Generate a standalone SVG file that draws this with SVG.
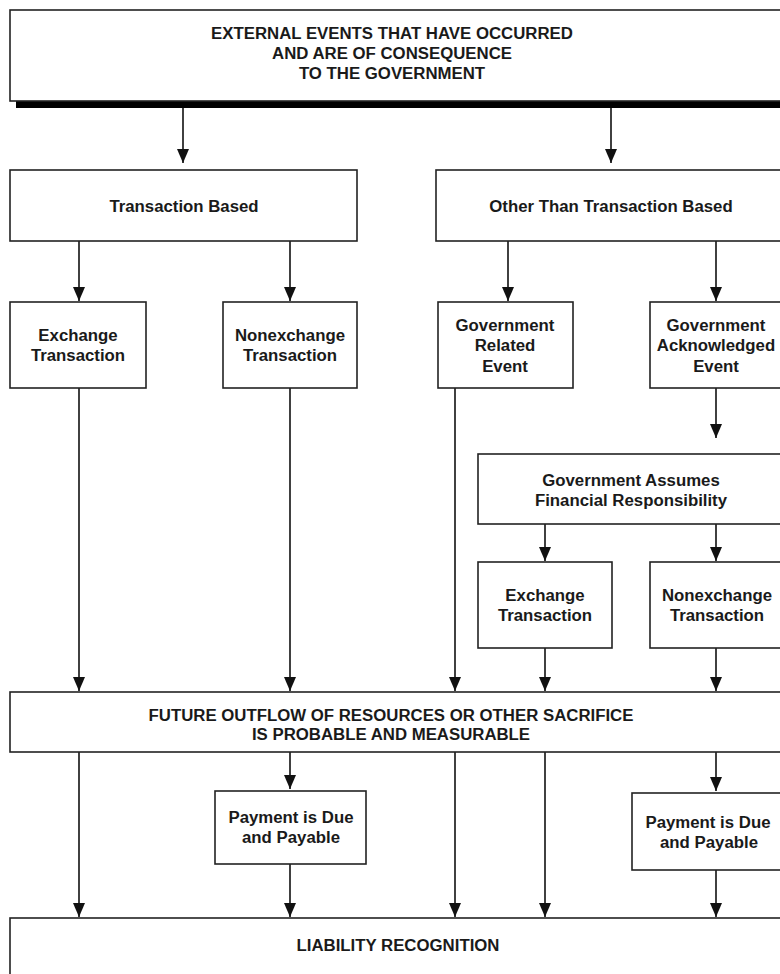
<svg xmlns="http://www.w3.org/2000/svg" width="780" height="974" viewBox="0 0 780 974">
  <defs>
    <marker id="arrow" viewBox="0 0 14 12" refX="14" refY="6" markerWidth="14" markerHeight="12" markerUnits="userSpaceOnUse" orient="auto">
      <path d="M0,0 L14,6 L0,12 z" fill="#111"/>
    </marker>
    <style>
      .box { fill: #fff; stroke: #222; stroke-width: 1.6; }
      .lbl { font-family: "Liberation Sans", Arial, sans-serif; font-weight: bold; font-size: 16.8px; fill: #1a1a1a; text-anchor: middle; }
      .wire { fill: none; stroke: #111; stroke-width: 1.6; marker-end: url(#arrow); }
    </style>
  </defs>
  <rect width="780" height="974" fill="#fff"/>

  <!-- connectors -->
  <g id="connectors">
    <path class="wire" d="M183,108 V163"/>
    <path class="wire" d="M611,108 V163"/>
    <path class="wire" d="M79,241 V301"/>
    <path class="wire" d="M290,241 V301"/>
    <path class="wire" d="M508,241 V301"/>
    <path class="wire" d="M716,241 V301"/>
    <path class="wire" d="M716,388 V438"/>
    <path class="wire" d="M545,524 V561"/>
    <path class="wire" d="M716,524 V561"/>
    <path class="wire" d="M79,388 V691"/>
    <path class="wire" d="M290,388 V691"/>
    <path class="wire" d="M455,388 V691"/>
    <path class="wire" d="M545,648 V691"/>
    <path class="wire" d="M716,648 V691"/>
    <path class="wire" d="M79,752 V917"/>
    <path class="wire" d="M290,752 V789"/>
    <path class="wire" d="M455,752 V917"/>
    <path class="wire" d="M545,752 V917"/>
    <path class="wire" d="M716,752 V791"/>
    <path class="wire" d="M290,864 V917"/>
    <path class="wire" d="M716,870 V917"/>
  </g>

  <g id="external-events">
    <rect x="16" y="101" width="770" height="7" fill="#000"/>
    <rect class="box" x="10" y="10" width="780" height="91"/>
    <text class="lbl" x="392" y="39">EXTERNAL EVENTS THAT HAVE OCCURRED</text>
    <text class="lbl" x="392" y="59">AND ARE OF CONSEQUENCE</text>
    <text class="lbl" x="392" y="79">TO THE GOVERNMENT</text>
  </g>

  <g id="transaction-based">
    <rect class="box" x="10" y="170" width="347" height="71"/>
    <text class="lbl" x="184" y="212">Transaction Based</text>
  </g>

  <g id="other-than-transaction-based">
    <rect class="box" x="436" y="170" width="354" height="71"/>
    <text class="lbl" x="611" y="212">Other Than Transaction Based</text>
  </g>

  <g id="exchange-transaction">
    <rect class="box" x="10" y="302" width="136" height="86"/>
    <text class="lbl" x="78" y="341">Exchange</text>
    <text class="lbl" x="78" y="361">Transaction</text>
  </g>

  <g id="nonexchange-transaction">
    <rect class="box" x="223" y="302" width="134" height="86"/>
    <text class="lbl" x="290" y="341">Nonexchange</text>
    <text class="lbl" x="290" y="361">Transaction</text>
  </g>

  <g id="government-related-event">
    <rect class="box" x="438" y="302" width="135" height="86"/>
    <text class="lbl" x="505" y="331">Government</text>
    <text class="lbl" x="505" y="351">Related</text>
    <text class="lbl" x="505" y="372">Event</text>
  </g>

  <g id="government-acknowledged-event">
    <rect class="box" x="650" y="302" width="140" height="86"/>
    <text class="lbl" x="716" y="331">Government</text>
    <text class="lbl" x="716" y="351">Acknowledged</text>
    <text class="lbl" x="716" y="372">Event</text>
  </g>

  <g id="government-assumes">
    <rect class="box" x="478" y="454" width="312" height="70"/>
    <text class="lbl" x="631" y="486">Government Assumes</text>
    <text class="lbl" x="631" y="506">Financial Responsibility</text>
  </g>

  <g id="exchange-transaction-2">
    <rect class="box" x="478" y="562" width="134" height="86"/>
    <text class="lbl" x="545" y="601">Exchange</text>
    <text class="lbl" x="545" y="621">Transaction</text>
  </g>

  <g id="nonexchange-transaction-2">
    <rect class="box" x="650" y="562" width="140" height="86"/>
    <text class="lbl" x="717" y="601">Nonexchange</text>
    <text class="lbl" x="717" y="621">Transaction</text>
  </g>

  <g id="future-outflow">
    <rect class="box" x="10" y="692" width="780" height="60"/>
    <text class="lbl" x="391" y="721">FUTURE OUTFLOW OF RESOURCES OR OTHER SACRIFICE</text>
    <text class="lbl" x="391" y="740">IS PROBABLE AND MEASURABLE</text>
  </g>

  <g id="payment-due-1">
    <rect class="box" x="215" y="791" width="151" height="73"/>
    <text class="lbl" x="291" y="823">Payment is Due</text>
    <text class="lbl" x="291" y="843">and Payable</text>
  </g>

  <g id="payment-due-2">
    <rect class="box" x="632" y="793" width="158" height="77"/>
    <text class="lbl" x="708" y="828">Payment is Due</text>
    <text class="lbl" x="709" y="848">and Payable</text>
  </g>

  <g id="liability-recognition">
    <rect class="box" x="10" y="918" width="780" height="70"/>
    <text class="lbl" x="398" y="951">LIABILITY RECOGNITION</text>
  </g>
</svg>
